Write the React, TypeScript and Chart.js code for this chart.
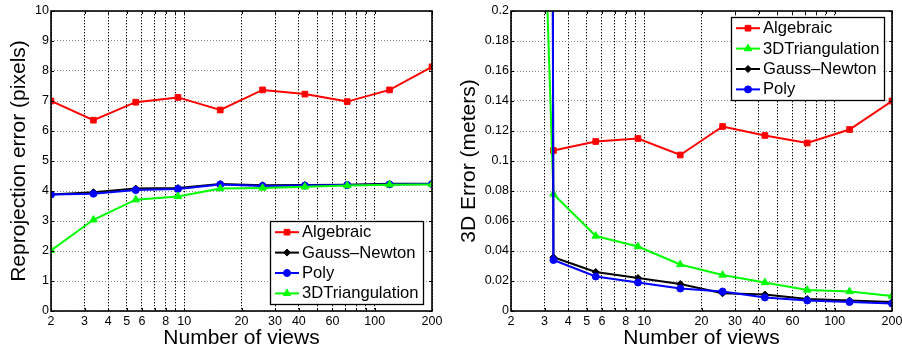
import React, { useEffect, useRef } from 'react';
import { Chart, registerables } from 'chart.js';

Chart.register(...registerables);

// ---------------- data ----------------
const X_VIEWS = [2, 3.34, 5.57, 9.28, 15.47, 25.8, 43.03, 71.77, 119.7, 200];
const X_GRID = [2, 3, 4, 5, 6, 7, 8, 9, 10, 20, 30, 40, 50, 60, 70, 80, 90, 100, 200];
const X_LABELED = [2, 3, 4, 5, 6, 8, 10, 20, 30, 40, 60, 100, 200];

const REPROJ_ALGEBRAIC = [7.0, 6.36, 6.96, 7.12, 6.7, 7.37, 7.23, 6.98, 7.37, 8.14];
const REPROJ_GAUSS = [3.88, 3.96, 4.08, 4.1, 4.23, 4.19, 4.2, 4.21, 4.24, 4.24];
const REPROJ_POLY = [3.88, 3.91, 4.03, 4.07, 4.22, 4.17, 4.18, 4.2, 4.22, 4.23];
const REPROJ_TRI = [2.02, 3.04, 3.71, 3.82, 4.08, 4.1, 4.14, 4.18, 4.21, 4.22];

const ERR_ALGEBRAIC = [null, 0.107, 0.113, 0.115, 0.104, 0.123, 0.117, 0.112, 0.121, 0.14];
const ERR_TRI = [0.95, 0.078, 0.05, 0.043, 0.031, 0.024, 0.019, 0.014, 0.013, 0.01];
const ERR_GAUSS = [12, 0.0358, 0.026, 0.022, 0.018, 0.0118, 0.011, 0.008, 0.007, 0.006];
const ERR_POLY = [12.5, 0.034, 0.023, 0.019, 0.015, 0.013, 0.009, 0.007, 0.006, 0.005];

const X_TITLE = 'Number of views';
const LEFT_Y_TITLE = 'Reprojection error (pixels)';
const RIGHT_Y_TITLE = '3D Error (meters)';

// ---------------- styling ----------------
const FONT = '"Liberation Sans", Arial, Helvetica, sans-serif';
const RED = '#ff0000';
const GREEN = '#00ff00';
const BLUE = '#0000ff';
const BLACK = '#000000';

type Series = { label: string; values: (number | null)[]; color: string; marker: string; radius: number };

const ALG = { label: 'Algebraic', color: RED, marker: 'rect', radius: 4 };
const GN = { label: 'Gauss\u2013Newton', color: BLACK, marker: 'rectRot', radius: 3.5 };
const POLY = { label: 'Poly', color: BLUE, marker: 'circle', radius: 3.5 };
const TRI = { label: '3DTriangulation', color: GREEN, marker: 'triangle', radius: 4.3 };

const LEFT_SERIES: Series[] = [
  { ...ALG, values: REPROJ_ALGEBRAIC },
  { ...GN, values: REPROJ_GAUSS },
  { ...POLY, values: REPROJ_POLY },
  { ...TRI, values: REPROJ_TRI },
];

const RIGHT_SERIES: Series[] = [
  { ...ALG, values: ERR_ALGEBRAIC },
  { ...TRI, values: ERR_TRI },
  { ...GN, values: ERR_GAUSS },
  { ...POLY, values: ERR_POLY },
];

function drawMarker(ctx: CanvasRenderingContext2D, style: string, x: number, y: number, r: number, color: string) {
  ctx.save();
  ctx.fillStyle = color;
  ctx.strokeStyle = color;
  ctx.lineWidth = 1;
  ctx.beginPath();
  if (style === 'rect') {
    const s = Math.SQRT1_2 * r;
    ctx.rect(x - s, y - s, 2 * s, 2 * s);
  } else if (style === 'rectRot') {
    ctx.moveTo(x - r, y);
    ctx.lineTo(x, y - r);
    ctx.lineTo(x + r, y);
    ctx.lineTo(x, y + r);
    ctx.closePath();
  } else if (style === 'circle') {
    ctx.arc(x, y, r, 0, Math.PI * 2);
  } else if (style === 'triangle') {
    let rad = 0;
    ctx.moveTo(x + Math.sin(rad) * r, y - Math.cos(rad) * r);
    rad += (2 * Math.PI) / 3;
    ctx.lineTo(x + Math.sin(rad) * r, y - Math.cos(rad) * r);
    rad += (2 * Math.PI) / 3;
    ctx.lineTo(x + Math.sin(rad) * r, y - Math.cos(rad) * r);
    ctx.closePath();
  }
  ctx.fill();
  ctx.stroke();
  ctx.restore();
}

const framePlugin = {
  id: 'matFrame',
  afterDraw(chart: any, _args: any, opts: any) {
    const { ctx, chartArea: a, scales } = chart;
    ctx.save();
    ctx.strokeStyle = '#000';
    ctx.lineWidth = 1;
    const L = 3;
    ctx.beginPath();
    scales.x.ticks.forEach((t: any) => {
      const px = Math.round(scales.x.getPixelForValue(t.value)) + 0.5;
      ctx.moveTo(px, a.bottom);
      ctx.lineTo(px, a.bottom - L);
      ctx.moveTo(px, a.top);
      ctx.lineTo(px, a.top + L);
    });
    scales.y.ticks.forEach((t: any) => {
      const py = Math.round(scales.y.getPixelForValue(t.value)) + 0.5;
      ctx.moveTo(a.left, py);
      ctx.lineTo(a.left + L, py);
      ctx.moveTo(a.right, py);
      ctx.lineTo(a.right - L, py);
    });
    ctx.stroke();
    ctx.lineWidth = 1.6;
    ctx.strokeRect(Math.round(a.left), Math.round(a.top), Math.round(a.right - a.left), Math.round(a.bottom - a.top));

    // legend
    const series: Series[] = opts.series;
    const font = '16.6px ' + FONT;
    ctx.font = font;
    let maxW = 0;
    series.forEach((s) => { maxW = Math.max(maxW, ctx.measureText(s.label).width); });
    const rowH = 20.4;
    const padL = 5, lineLen = 24, gap = 3, padR = 4;
    const boxW = padL + lineLen + gap + maxW + padR;
    const boxH = rowH * series.length + 1.5;
    const right = a.right - opts.dx;
    const left = Math.round(right - boxW);
    const top = opts.corner === 'top' ? Math.round(a.top + opts.dy) : Math.round(a.bottom - opts.dy - boxH);
    ctx.fillStyle = '#fff';
    ctx.fillRect(left, top, boxW, boxH);
    ctx.lineWidth = 1.3;
    ctx.strokeStyle = '#000';
    ctx.strokeRect(left + 0.5, top + 0.5, Math.round(boxW), Math.round(boxH));
    series.forEach((s, i) => {
      const cy = top + rowH / 2 + 1 + i * rowH;
      const x0 = left + padL;
      ctx.strokeStyle = s.color;
      ctx.lineWidth = 2;
      ctx.beginPath();
      ctx.moveTo(x0, cy);
      ctx.lineTo(x0 + lineLen, cy);
      ctx.stroke();
      drawMarker(ctx, s.marker, x0 + lineLen / 2, cy, s.radius, s.color);
      ctx.fillStyle = '#000';
      ctx.font = font;
      ctx.textBaseline = 'middle';
      ctx.textAlign = 'left';
      ctx.fillText(s.label, x0 + lineLen + gap, cy + 0.5);
    });
    ctx.restore();
  },
};

function buildConfig(p: {
  series: Series[];
  yMin: number; yMax: number; yStep: number;
  yTitle: string; yWidth: number; padRight: number;
  legendCorner: string; legendDx: number; legendDy: number;
}): any {
  const datasets = p.series.map((s, i) => ({
    label: s.label,
    data: X_VIEWS.map((x, j) => ({ x, y: s.values[j] })),
    borderColor: s.color,
    backgroundColor: s.color,
    pointBackgroundColor: s.color,
    pointBorderColor: s.color,
    pointStyle: s.marker,
    pointRadius: s.radius,
    pointBorderWidth: 1,
    borderWidth: 2,
    tension: 0,
    order: -i,
    spanGaps: false,
  }));
  return {
    type: 'line',
    data: { datasets },
    plugins: [framePlugin],
    options: {
      animation: false,
      responsive: false,
      devicePixelRatio: 1,
      layout: { padding: { left: 0, right: p.padRight, top: 11, bottom: 0 } },
      plugins: {
        legend: { display: false },
        tooltip: { enabled: false },
        matFrame: { series: p.series, corner: p.legendCorner, dx: p.legendDx, dy: p.legendDy },
      },
      scales: {
        x: {
          type: 'logarithmic',
          min: 2,
          max: 200,
          afterBuildTicks: (scale: any) => {
            scale.ticks = X_GRID.map((v) => ({ value: v }));
          },
          afterFit: (scale: any) => {
            scale.height = 38;
            scale.paddingLeft = 0;
            scale.paddingRight = 0;
          },
          ticks: {
            autoSkip: false,
            maxRotation: 0,
            minRotation: 0,
            padding: 3,
            color: '#000',
            font: { family: FONT, size: 12.5 },
            callback: (v: number) => (X_LABELED.includes(v) ? String(v) : ''),
          },
          grid: { color: '#000', lineWidth: 1, drawTicks: false },
          border: { display: false, dash: [1.3, 1.7] },
          title: {
            display: true,
            text: X_TITLE,
            color: '#000',
            font: { family: FONT, size: 21, lineHeight: 1 },
            padding: { top: 0, bottom: 0 },
          },
        },
        y: {
          type: 'linear',
          min: p.yMin,
          max: p.yMax,
          afterFit: (scale: any) => {
            scale.width = p.yWidth;
            scale.paddingTop = 0;
            scale.paddingBottom = 0;
          },
          ticks: {
            stepSize: p.yStep,
            padding: 2,
            color: '#000',
            font: { family: FONT, size: 12.5 },
            callback: (v: number) => String(Number(v.toFixed(4))),
          },
          grid: { color: '#8a8a8a', lineWidth: 1, drawTicks: false },
          border: { display: false, dash: [1, 2] },
          title: {
            display: true,
            text: p.yTitle,
            color: '#000',
            font: { family: FONT, size: 21, lineHeight: 1 },
            padding: { top: 8.5, bottom: 0 },
          },
        },
      },
    },
  };
}

function ChartCanvas(props: { config: any; width: number; height: number; left: number }) {
  const ref = useRef<HTMLCanvasElement | null>(null);
  useEffect(() => {
    if (!ref.current) return;
    const chart = new Chart(ref.current, props.config);
    return () => chart.destroy();
  }, []);
  return (
    <canvas
      ref={ref}
      width={props.width}
      height={props.height}
      style={{ position: 'absolute', left: props.left, top: 0, width: props.width, height: props.height }}
    />
  );
}

export default function App() {
  const leftConfig = buildConfig({
    series: LEFT_SERIES,
    yMin: 0, yMax: 10, yStep: 1,
    yTitle: LEFT_Y_TITLE, yWidth: 51, padRight: 18,
    legendCorner: 'bottom', legendDx: 9, legendDy: 7,
  });
  const rightConfig = buildConfig({
    series: RIGHT_SERIES,
    yMin: 0, yMax: 0.2, yStep: 0.02,
    yTitle: RIGHT_Y_TITLE, yWidth: 61, padRight: 10,
    legendCorner: 'top', legendDx: 8, legendDy: 6,
  });
  return (
    <div style={{ position: 'fixed', left: 0, top: 0, width: 902, height: 349, background: '#fff' }}>
      <ChartCanvas config={leftConfig} width={450} height={349} left={0} />
      <ChartCanvas config={rightConfig} width={452} height={349} left={450} />
    </div>
  );
}
